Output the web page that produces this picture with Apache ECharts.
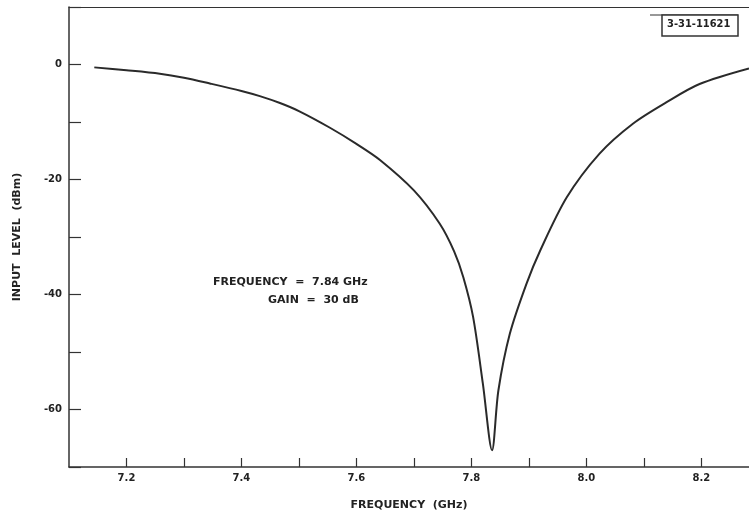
<!DOCTYPE html>
<html>
<head>
<meta charset="utf-8">
<script src="https://cdn.jsdelivr.net/npm/echarts@6/dist/echarts.min.js"></script>
<style>html,body{margin:0;padding:0;background:#fff;}#c{width:749px;height:516px;}</style>
</head>
<body>
<div id="c"></div>
<script>
// Frequency (GHz)
const freq = [7.144, 7.2, 7.258, 7.3, 7.345, 7.4, 7.432, 7.467, 7.5, 7.554, 7.6, 7.641, 7.7, 7.745, 7.77, 7.786, 7.803, 7.82, 7.836, 7.847, 7.867, 7.896, 7.92, 7.966, 8.023, 8.081, 8.139, 8.197, 8.283];
// Input level (dBm)
const level = [-0.5, -1.0, -1.6, -2.3, -3.3, -4.6, -5.5, -6.7, -8.1, -11.0, -13.8, -16.6, -21.9, -27.7, -32.5, -37.0, -43.9, -55.5, -67.1, -56.7, -46.8, -38.1, -32.3, -23.1, -15.5, -10.3, -6.6, -3.4, -0.7];
const yTickLabels = [0, -20, -40, -60];
const xTickLabels = ['7.2', '7.4', '7.6', '7.8', '8.0', '8.2'];
const note1 = 'FREQUENCY  =  7.84 GHz';
const note2 = 'GAIN  =  30 dB';
const figId = '3-31-11621';

const ink = '#333';
const font = 'DejaVu Sans';
const chart = echarts.init(document.getElementById('c'));
chart.setOption({
  animation: false,
  backgroundColor: '#fff',
  grid: { left: 69, right: 0, top: 7, bottom: 48 },
  xAxis: [{
    type: 'value', min: 7.1, max: 8.283, interval: 0.1,
    name: 'FREQUENCY  (GHz)', nameLocation: 'middle', nameGap: 33,
    nameTextStyle: { color: '#222', fontFamily: font, fontSize: 11, fontWeight: 'bold' },
    axisLine: { show: true, onZero: false, lineStyle: { color: ink, width: 1.5 } },
    axisTick: { show: true, inside: true, length: 9, lineStyle: { color: ink, width: 1.2 } },
    splitLine: { show: false },
    axisLabel: {
      margin: 6, color: '#222', fontFamily: font, fontSize: 10, fontWeight: 'bold',
      showMinLabel: false, showMaxLabel: false,
      formatter: v => { const s = v.toFixed(1); return xTickLabels.indexOf(s) >= 0 ? s : ''; }
    }
  }, {
    type: 'value', position: 'top', min: 7.1, max: 8.283,
    axisLine: { show: true, onZero: false, lineStyle: { color: ink, width: 1.2 } },
    axisTick: { show: false }, axisLabel: { show: false }, splitLine: { show: false }
  }],
  yAxis: {
    type: 'value', min: -70, max: 10, interval: 10,
    name: 'INPUT  LEVEL  (dBm)', nameLocation: 'middle', nameGap: 46, nameRotate: 90,
    nameTextStyle: { color: '#222', fontFamily: font, fontSize: 11, fontWeight: 'bold' },
    axisLine: { show: true, onZero: false, lineStyle: { color: ink, width: 1.5 } },
    axisTick: { show: true, inside: true, length: 12, lineStyle: { color: ink, width: 1.2 } },
    splitLine: { show: false },
    axisLabel: {
      margin: 7, color: '#222', fontFamily: font, fontSize: 10, fontWeight: 'bold',
      formatter: v => yTickLabels.indexOf(Math.round(v)) >= 0 ? String(Math.round(v)) : ''
    }
  },
  series: [{
    type: 'line', xAxisIndex: 0, smooth: 0.3, symbol: 'none',
    lineStyle: { color: '#2a2a2a', width: 2 },
    data: freq.map((f, i) => [f, level[i]])
  }],
  graphic: [
    { type: 'text', left: 213, top: 277, style: { text: note1, fill: '#222', font: 'bold 11px DejaVu Sans' } },
    { type: 'text', left: 268, top: 295, style: { text: note2, fill: '#222', font: 'bold 11px DejaVu Sans' } },
    { type: 'line', shape: { x1: 650, y1: 15, x2: 738, y2: 15 }, style: { stroke: ink, lineWidth: 1.2 } },
    { type: 'rect', shape: { x: 662, y: 15, width: 76, height: 21 }, style: { fill: '#fff', stroke: ink, lineWidth: 1.5 } },
    { type: 'text', left: 667, top: 19, style: { text: figId, fill: '#222', font: 'bold 11px DejaVu Sans Condensed' } }
  ]
});
</script>
</body>
</html>
